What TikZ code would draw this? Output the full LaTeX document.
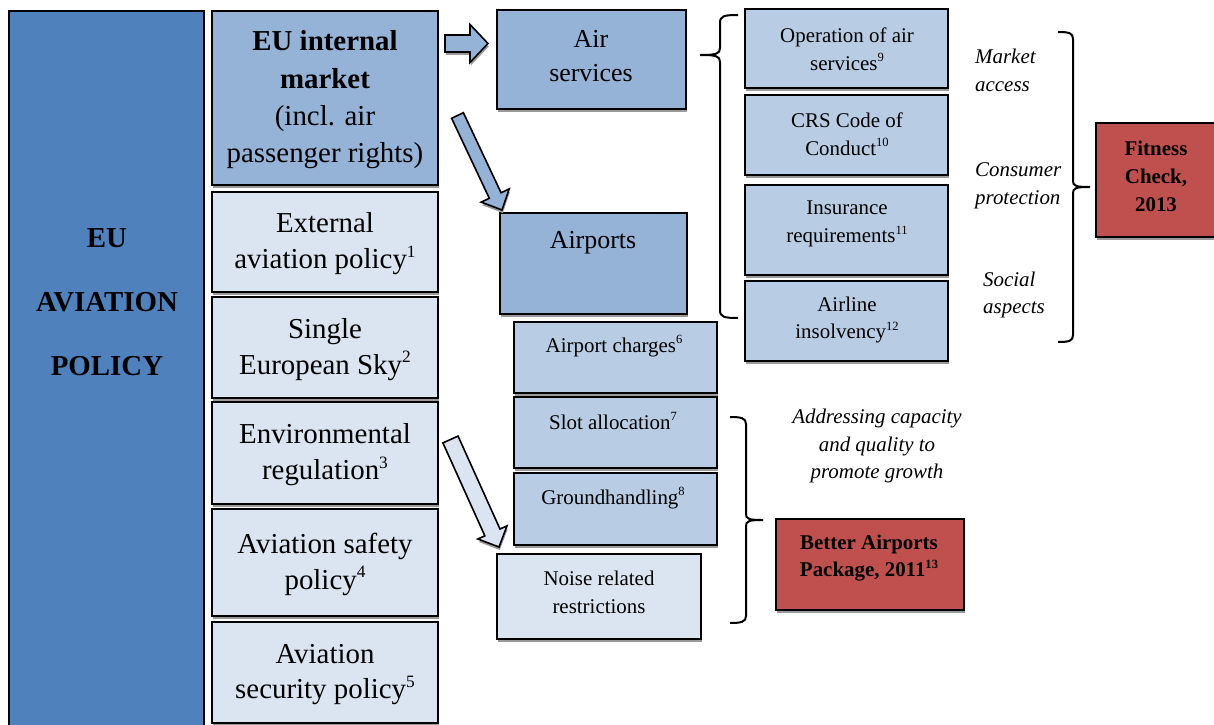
\documentclass[tikz,border=0pt]{standalone}
\usepackage{fontspec}
\usepackage{graphicx}
\setmainfont{Liberation Serif}
\usetikzlibrary{fit,calc,shadows}
\definecolor{dblue}{HTML}{4F81BD}
\definecolor{mblue}{HTML}{95B3D7}
\definecolor{lblue}{HTML}{B8CCE4}
\definecolor{pblue}{HTML}{DBE5F1}
\definecolor{redbox}{HTML}{C0504D}
\definecolor{shade}{HTML}{9A9A9A}
\newcommand\fbig{\fontsize{29}{36}\selectfont}
\newcommand\fmid{\fontsize{26}{35}\selectfont}
\newcommand\fsm{\fontsize{21}{28}\selectfont}
\newcommand\sps[1]{\raisebox{0.4em}{\scalebox{0.6}{#1}}}
\tikzset{
  shad/.style={drop shadow={shadow xshift=0.8bp, shadow yshift=-3bp, fill=shade, opacity=1}},
  box/.style={draw=black, line width=2bp, inner sep=0pt, shad},
  txt/.style={align=center, inner sep=0pt, text=black},
  itl/.style={align=left, inner sep=0pt, anchor=west, font=\fsm\itshape},
  brc/.style={draw=black, line width=2bp},
  barrow/.style={draw=black, line width=1.6bp, shad},
}
\newcommand\blockarrow[6]{%
  \coordinate (ba-h) at ($(#2)!#5!(#1)$);
  \filldraw[barrow, fill=#6] ($(#1)!#3!90:(#2)$) -- ($(ba-h)!#3!90:(#2)$)
    -- ($(ba-h)!#4!90:(#2)$) -- (#2) -- ($(ba-h)!#4!-90:(#2)$)
    -- ($(ba-h)!#3!-90:(#2)$) -- ($(#1)!#3!-90:(#2)$) -- cycle;
}
\begin{document}
\begin{tikzpicture}[x=1bp, y=-1bp]
\path[use as bounding box] (0,0) rectangle (1214,725);

% left column
\node[box, fill=dblue, fit={(9,11) (204,735)}] (big) {};
\node[txt, font=\fontsize{29}{64}\selectfont\bfseries] (t-big) at (107,302) {EU\\AVIATION\\POLICY};

% second column
\node[box, fill=mblue, fit={(212,11) (438,185)}] (im) {};
\node[box, fill=pblue, fit={(212,192) (438,292)}] (ext) {};
\node[box, fill=pblue, fit={(212,297) (438,398)}] (ses) {};
\node[box, fill=pblue, fit={(212,402) (438,504)}] (env) {};
\node[box, fill=pblue, fit={(212,509) (438,616)}] (saf) {};
\node[box, fill=pblue, fit={(212,622) (438,723)}] (sec) {};
\node[txt, font=\fontsize{29}{37.5}\selectfont] (t-im) at ([yshift=-2bp]im.center) {\textbf{EU internal}\\\textbf{market}\\(incl. air\\passenger rights)};
\node[txt, font=\fbig] (t-ext) at ([yshift=-2bp]ext.center) {External\\aviation policy\sps{1}};
\node[txt, font=\fbig] (t-ses) at ([yshift=-2bp]ses.center) {Single\\European Sky\sps{2}};
\node[txt, font=\fbig] (t-env) at ([yshift=-2bp]env.center) {Environmental\\regulation\sps{3}};
\node[txt, font=\fbig] (t-saf) at ([yshift=-2bp]saf.center) {Aviation safety\\policy\sps{4}};
\node[txt, font=\fbig] (t-sec) at ([yshift=-2bp]sec.center) {Aviation\\security policy\sps{5}};

% third column
\node[box, fill=mblue, fit={(497,10) (686,109)}] (air) {};
\node[box, fill=mblue, fit={(500,213) (687,314)}] (apt) {};
\node[box, fill=lblue, fit={(514,322) (717,393)}] (chg) {};
\node[box, fill=lblue, fit={(514,397) (717,468)}] (slot) {};
\node[box, fill=lblue, fit={(514,473) (717,545)}] (gh) {};
\node[box, fill=pblue, fit={(497,554) (701,639)}] (noise) {};
\node[txt, font=\fmid] (t-air) at (591,56) {Air\\services};
\node[txt, font=\fmid] (t-apt) at (593,243) {Airports};
\node[txt, font=\fsm] (t-chg) at (614,346) {Airport charges\sps{6}};
\node[txt, font=\fsm] (t-slot) at (613,421) {Slot allocation\sps{7}};
\node[txt, font=\fsm] (t-gh) at (613,498) {Groundhandling\sps{8}};
\node[txt, font=\fsm] (t-noise) at (599,592) {Noise related\\restrictions};

% fourth column
\node[box, fill=lblue, fit={(745,9) (948,88)}] (op) {};
\node[box, fill=lblue, fit={(745,95) (948,175)}] (crs) {};
\node[box, fill=lblue, fit={(745,185) (948,275)}] (ins) {};
\node[box, fill=lblue, fit={(745,281) (948,361)}] (ail) {};
\node[txt, font=\fsm] (t-op) at (847,49) {Operation of air\\services\sps{9}};
\node[txt, font=\fsm] (t-crs) at (847,134) {CRS Code of\\Conduct\sps{10}};
\node[txt, font=\fsm] (t-ins) at (847,224) {Insurance\\requirements\sps{11}};
\node[txt, font=\fsm] (t-ail) at (847,320) {Airline\\insolvency\sps{12}};

% italic labels
\node[itl] (l-mkt) at (975,70) {Market\\access};
\node[itl] (l-con) at (975,186) {Consumer\\protection};
\node[itl] (l-soc) at (983,295) {Social\\aspects};
\node[txt, font=\fsm\itshape] (l-add) at (877,446) {Addressing capacity\\and quality to\\promote growth};

% red boxes
\node[box, fill=redbox, fit={(1096,123) (1222,237)}] (fit) {};
\node[txt, font=\fsm\bfseries] (t-fit) at (1156,176) {Fitness\\Check,\\2013};
\node[box, fill=redbox, fit={(776,519) (964,610)}] (bap) {};
\node[txt, font=\fsm\bfseries] (t-bap) at (869,558) {Better Airports\\Package, 2011\sps{13}};

% braces
\draw[brc] (738,15) .. controls (724,15) and (720,16) .. (720,23) -- (720,48)
  .. controls (720,54) and (716,55) .. (700,55)
  .. controls (716,55) and (720,56) .. (720,62) -- (720,310)
  .. controls (720,317) and (724,318) .. (738,318);
\draw[brc] (1058,32) .. controls (1069,32) and (1073,33) .. (1073,39) -- (1073,181)
  .. controls (1073,186) and (1076,187) .. (1090,187)
  .. controls (1076,187) and (1073,188) .. (1073,193) -- (1073,335)
  .. controls (1073,341) and (1069,342) .. (1058,342);
\draw[brc] (730,417) .. controls (741,417) and (746,418) .. (746,424) -- (746,514)
  .. controls (746,519) and (749,520) .. (763,520)
  .. controls (749,520) and (746,521) .. (746,526) -- (746,616)
  .. controls (746,622) and (741,623) .. (730,623);

% block arrows
\coordinate (a1s) at (445,43.5);
\coordinate (a1e) at (488,43.5);
\coordinate (a2s) at (457.5,115.5);
\coordinate (a2e) at (502,210);
\coordinate (a3s) at (450.5,439.5);
\coordinate (a3e) at (499,547);
\blockarrow{a1s}{a1e}{8.5bp}{19bp}{18bp}{mblue}
\blockarrow{a2s}{a2e}{6.5bp}{15.5bp}{16bp}{mblue}
\blockarrow{a3s}{a3e}{8.3bp}{16bp}{16bp}{pblue}
\end{tikzpicture}
\end{document}
